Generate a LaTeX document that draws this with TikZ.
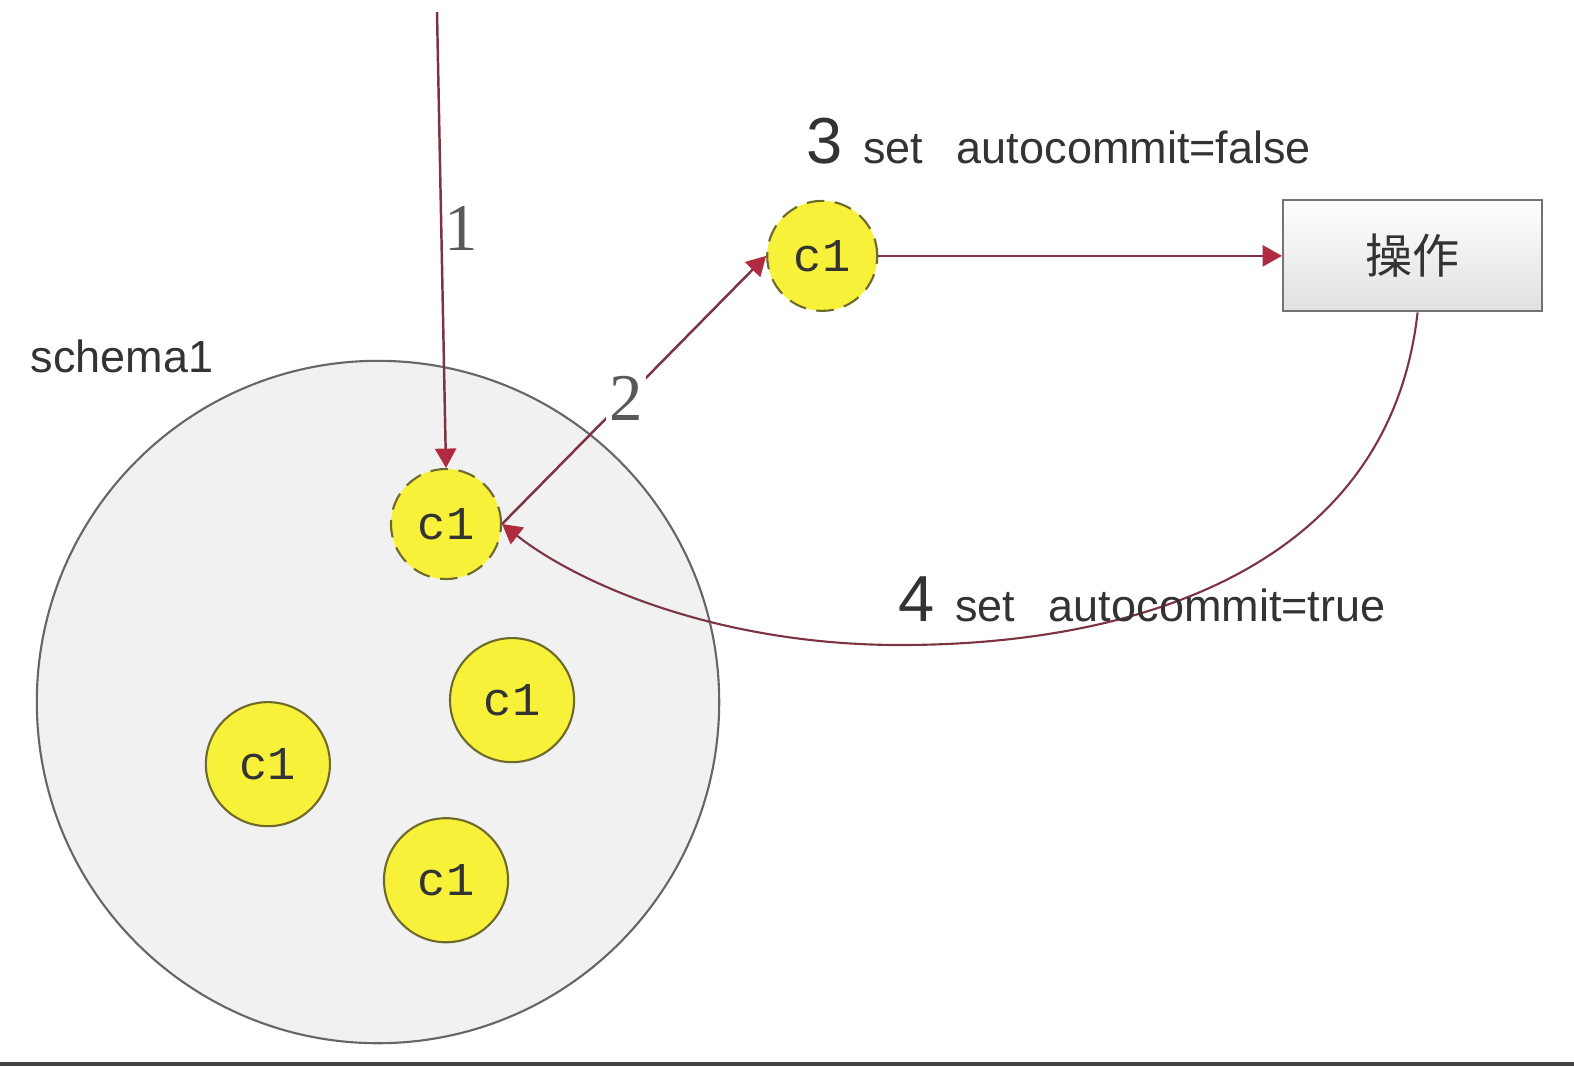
\documentclass[tikz,border=0pt]{standalone}
\usepackage{fontspec}
\setmainfont{Liberation Sans}
\newfontfamily\cjk{Noto Sans CJK SC}
\newfontfamily\cfont{Liberation Mono}
\newfontfamily\numfont{Liberation Serif}
\usepackage{xcolor}
\usetikzlibrary{positioning, arrows.meta}

\definecolor{cyel}{HTML}{F7F13A}
\definecolor{cedge}{HTML}{6E6A2C}
\definecolor{flowline}{HTML}{7C3442}
\definecolor{flowhead}{HTML}{B02A40}
\definecolor{poolfill}{HTML}{F1F1F1}
\definecolor{txt}{HTML}{333333}

\begin{document}
\begin{tikzpicture}[
    x=0.01cm, y=-0.01cm, on grid,
    conn/.style={circle, draw=cedge, line width=0.6pt, fill=cyel, minimum size=1.24cm, inner sep=0pt, font=\cfont\fontsize{13.4}{14}\selectfont, text=txt},
    conndash/.style={conn, dashed, dash pattern=on 5pt off 3pt, minimum size=1.1cm},
    pool/.style={circle, draw=black!60, line width=0.6pt, fill=poolfill, minimum size=6.82cm, inner sep=0pt},
    opbox/.style={rectangle, draw=black!55, line width=0.6pt, top color=white, bottom color=black!12, minimum width=2.59cm, minimum height=1.11cm, font=\cjk\fontsize{13.4}{14}\selectfont, text=txt},
    flow/.style={draw=flowline, line width=0.7pt, -{Triangle[length=5.5pt, width=6pt, color=flowhead]}},
    numlabel/.style={font=\numfont\fontsize{19}{19}\selectfont, text=black!65, inner sep=1pt},
    note/.style={font=\fontsize{12.8}{13}\selectfont, text=txt, inner sep=0pt},
]

    % frame
    \useasboundingbox (0,0) rectangle (1574,1066);
    \fill[black!75] (0,1062) rectangle (1574,1066);

    % Pool and connections
    \node[pool] (Pool) at (378,702) {};
    \node[note, anchor=base west] (PoolName) at (30,372) {schema1};

    \node[conndash] (Active) at (446,524) {c1};
    \node[conn] (IdleA) [below right=1.76cm and 0.66cm of Active] {c1};
    \node[conn] (IdleB) [below=3.56cm of Active] {c1};
    \node[conn] (IdleC) [below left=2.40cm and 1.78cm of Active] {c1};

    \node[conndash] (Taken) [above right=2.68cm and 3.76cm of Active] {c1};
    \node[opbox] (Op) [right=5.9cm of Taken] {操作};
    \coordinate (Src) at (437,12);

    % Steps
    \draw[flow] (Src) -- (Active.north);
    \node[numlabel] (One) at (461,228) {1};

    \draw[flow] (Active.east) -- node[numlabel, fill=white, pos=0.47] (Two) {2} (Taken.west);

    \node[note, anchor=base west] (Three) at (806,163) {{\fontsize{18.5}{19}\selectfont 3}\hspace{0.45em}set\hspace{0.75em}autocommit=false};

    \draw[flow] (Taken.east) -- (Op.west);

    \draw[flow, line width=0.6pt] (Op.south) ++(5,0) coordinate (OpOut)
        .. controls (1390,560) and (1150,645) .. (900,645)
        .. controls (720,645) and (580,585) .. (Active.east);

    \node[note, anchor=base west] (Four) at (898,621) {{\fontsize{18.5}{19}\selectfont 4}\hspace{0.45em}set\hspace{0.75em}autocommit=true};

\end{tikzpicture}
\end{document}
